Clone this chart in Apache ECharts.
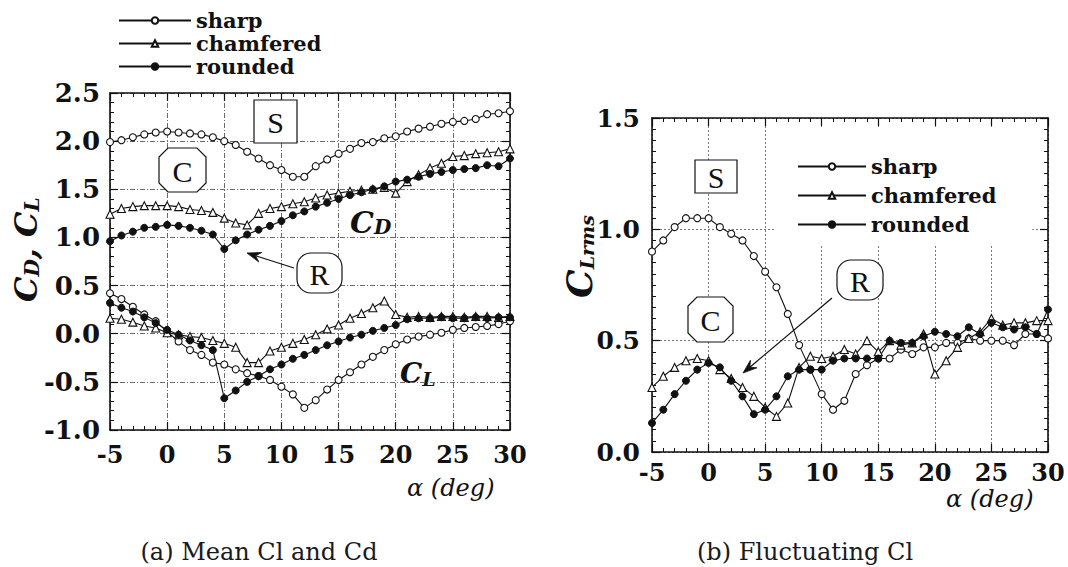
<!DOCTYPE html>
<html>
<head>
<meta charset="utf-8">
<script src="https://cdn.jsdelivr.net/npm/echarts@6/dist/echarts.min.js"></script>
<style>
  html, body { margin: 0; padding: 0; background: #fff; }
  #chart { width: 1068px; height: 567px; }
</style>
</head>
<body>
<div id="chart"></div>
<script>
// Angle of attack (deg)
const alpha = [-5, -4, -3, -2, -1, 0, 1, 2, 3, 4, 5, 6, 7, 8, 9, 10, 11, 12, 13, 14, 15,
               16, 17, 18, 19, 20, 21, 22, 23, 24, 25, 26, 27, 28, 29, 30];

// (a) mean drag coefficient
const sharpCD = [1.99, 2.01, 2.04, 2.07, 2.09, 2.10, 2.09, 2.08, 2.07, 2.04, 2.00, 1.96, 1.89, 1.82, 1.75, 1.70, 1.63, 1.63,
                 1.74, 1.81, 1.87, 1.92, 1.98, 1.99, 2.03, 2.05, 2.10, 2.13, 2.15, 2.18, 2.20, 2.21, 2.23, 2.28, 2.29, 2.31];
const chamferedCD = [1.24, 1.30, 1.32, 1.33, 1.33, 1.33, 1.32, 1.29, 1.28, 1.26, 1.20, 1.15, 1.13, 1.25, 1.30, 1.32, 1.35, 1.37,
                     1.41, 1.44, 1.46, 1.48, 1.49, 1.50, 1.52, 1.46, 1.58, 1.65, 1.72, 1.77, 1.84, 1.85, 1.87, 1.88, 1.89, 1.92];
const roundedCD = [0.96, 1.02, 1.06, 1.10, 1.11, 1.13, 1.12, 1.10, 1.07, 1.03, 0.88, 0.97, 1.03, 1.08, 1.12, 1.17, 1.23, 1.27,
                   1.32, 1.36, 1.40, 1.44, 1.47, 1.50, 1.53, 1.58, 1.60, 1.63, 1.66, 1.68, 1.70, 1.71, 1.72, 1.75, 1.74, 1.82];

// (a) mean lift coefficient
const sharpCL = [0.42, 0.36, 0.28, 0.20, 0.13, 0.02, -0.08, -0.17, -0.22, -0.30, -0.32, -0.37, -0.41, -0.44, -0.48, -0.55, -0.63, -0.77,
                 -0.69, -0.58, -0.48, -0.40, -0.32, -0.24, -0.17, -0.11, -0.06, -0.03, -0.01, 0.01, 0.04, 0.06, 0.07, 0.08, 0.10, 0.13];
const chamferedCL = [0.16, 0.15, 0.12, 0.08, 0.06, 0.01, -0.01, -0.03, -0.04, -0.07, -0.10, -0.14, -0.30, -0.30, -0.18, -0.14, -0.10, -0.06,
                     -0.01, 0.05, 0.09, 0.16, 0.21, 0.27, 0.34, 0.20, 0.17, 0.18, 0.17, 0.18, 0.18, 0.17, 0.18, 0.18, 0.17, 0.18];
const roundedCL = [0.32, 0.27, 0.23, 0.17, 0.11, 0.04, -0.01, -0.07, -0.12, -0.17, -0.67, -0.59, -0.50, -0.44, -0.37, -0.32, -0.26, -0.22,
                   -0.17, -0.12, -0.08, -0.04, -0.01, 0.03, 0.06, 0.09, 0.15, 0.16, 0.16, 0.17, 0.16, 0.16, 0.17, 0.16, 0.17, 0.17];

// (b) rms of the fluctuating lift coefficient
const sharpRms = [0.90, 0.95, 1.01, 1.05, 1.05, 1.05, 1.01, 0.98, 0.95, 0.88, 0.81, 0.74, 0.62, 0.48, 0.37, 0.26, 0.19, 0.23,
                  0.35, 0.39, 0.42, 0.42, 0.46, 0.44, 0.47, 0.47, 0.49, 0.49, 0.51, 0.50, 0.50, 0.50, 0.48, 0.53, 0.53, 0.51];
const chamferedRms = [0.29, 0.34, 0.38, 0.41, 0.42, 0.41, 0.37, 0.33, 0.29, 0.25, 0.20, 0.16, 0.22, 0.38, 0.43, 0.42, 0.43, 0.46,
                      0.44, 0.50, 0.45, 0.50, 0.48, 0.49, 0.53, 0.35, 0.41, 0.47, 0.51, 0.54, 0.60, 0.57, 0.58, 0.58, 0.59, 0.59];
const roundedRms = [0.13, 0.19, 0.26, 0.32, 0.37, 0.40, 0.38, 0.32, 0.25, 0.17, 0.19, 0.25, 0.34, 0.37, 0.37, 0.37, 0.41, 0.42,
                    0.42, 0.42, 0.42, 0.50, 0.49, 0.49, 0.52, 0.54, 0.53, 0.52, 0.56, 0.53, 0.58, 0.56, 0.55, 0.56, 0.53, 0.64];

const edgeNames = ['sharp', 'chamfered', 'rounded'];
const captions = ['(a) Mean Cl and Cd', '(b) Fluctuating Cl'];
const xTitle = 'α (deg)';

const INK = '#111';
const SERIF = '"DejaVu Serif", "Liberation Serif", serif';
const TIMES = '"Liberation Serif", "DejaVu Serif", serif';

const pairs = (ys) => alpha.map((a, i) => [a, ys[i]]);

// marker styles for the three edge shapes
const edgeStyle = {
  sharp:     { symbol: 'circle',   symbolSize: 7, itemStyle: { color: '#fff', borderColor: INK, borderWidth: 1.1 } },
  chamfered: { symbol: 'triangle', symbolSize: 8, itemStyle: { color: '#fff', borderColor: INK, borderWidth: 1.1 } },
  rounded:   { symbol: 'circle',   symbolSize: 7, itemStyle: { color: INK, borderColor: INK, borderWidth: 1 } }
};

function lineSeries(name, ys, xi, yi) {
  const s = edgeStyle[name];
  return {
    type: 'line', name, data: pairs(ys), xAxisIndex: xi, yAxisIndex: yi,
    symbol: s.symbol, symbolSize: s.symbolSize, showSymbol: true,
    itemStyle: s.itemStyle, lineStyle: { color: INK, width: 1.1 },
    emphasis: { disabled: true }, z: 3
  };
}

function axisCommon(extra) {
  return Object.assign({
    type: 'value',
    axisLine: { show: true, onZero: false, lineStyle: { color: INK, width: 1.6 } },
    axisTick: { show: true, inside: true, length: 8, lineStyle: { color: INK, width: 1.2 } },
    minorTick: { show: true, splitNumber: 5, length: 4, lineStyle: { color: INK, width: 1 } },
    splitLine: { show: false },
    axisLabel: { show: false }
  }, extra);
}

const tickFont = (size) => ({ color: INK, fontFamily: SERIF, fontWeight: 'bold', fontSize: size });

const gridA = { left: 110, top: 93, width: 400, height: 337 };
const gridB = { left: 652, top: 118, width: 396, height: 334 };

const xA = { min: -5, max: 30, interval: 5 };
const yA = { min: -1, max: 2.5, interval: 0.5 };
const yB = { min: 0, max: 1.5, interval: 0.5 };

const xAxes = [
  axisCommon(Object.assign({ gridIndex: 0, position: 'bottom',
    axisLabel: Object.assign({ show: true, margin: 12 }, tickFont(24)),
    splitLine: { show: true, lineStyle: { color: '#6a6a6a', width: 1, type: [5, 2, 1, 2] } } }, xA)),
  axisCommon(Object.assign({ gridIndex: 0, position: 'top' }, xA)),
  axisCommon(Object.assign({ gridIndex: 1, position: 'bottom',
    axisLabel: Object.assign({ show: true, margin: 8 }, tickFont(24)),
    splitLine: { show: true, lineStyle: { color: '#777', width: 1, type: [2, 2] } } }, xA)),
  axisCommon(Object.assign({ gridIndex: 1, position: 'top' }, xA))
];

const yAxes = [
  axisCommon(Object.assign({ gridIndex: 0, position: 'left',
    axisLabel: Object.assign({ show: true, margin: 10, formatter: v => v.toFixed(1) }, tickFont(26)),
    splitLine: { show: true, lineStyle: { color: '#6a6a6a', width: 1, type: [5, 2, 1, 2] } } }, yA)),
  axisCommon(Object.assign({ gridIndex: 0, position: 'right' }, yA)),
  axisCommon(Object.assign({ gridIndex: 1, position: 'left',
    minorTick: { show: true, splitNumber: 10, length: 4, lineStyle: { color: INK, width: 1 } },
    axisLabel: Object.assign({ show: true, margin: 12, formatter: v => v.toFixed(1) }, tickFont(25)),
    splitLine: { show: true, lineStyle: { color: '#777', width: 1, type: [2, 2] } } }, yB)),
  axisCommon(Object.assign({ gridIndex: 1, position: 'right',
    minorTick: { show: true, splitNumber: 10, length: 4, lineStyle: { color: INK, width: 1 } } }, yB))
];

const series = [
  lineSeries('sharp', sharpCD, 0, 0),
  lineSeries('chamfered', chamferedCD, 0, 0),
  lineSeries('rounded', roundedCD, 0, 0),
  lineSeries('sharp', sharpCL, 0, 0),
  lineSeries('chamfered', chamferedCL, 0, 0),
  lineSeries('rounded', roundedCL, 0, 0),
  lineSeries('sharp', sharpRms, 2, 2),
  lineSeries('chamfered', chamferedRms, 2, 2),
  lineSeries('rounded', roundedRms, 2, 2)
];

const legendText = { color: INK, fontFamily: SERIF, fontWeight: 'bold', fontSize: 21 };
const legends = [
  { data: edgeNames, orient: 'vertical', left: 118, top: 10, padding: 0, itemGap: 2,
    itemWidth: 72, itemHeight: 8, textStyle: legendText, selectedMode: false },
  { data: edgeNames, orient: 'vertical', left: 775, top: 127, padding: [29, 36, 9, 22], itemGap: 8,
    itemWidth: 68, itemHeight: 8, textStyle: legendText, selectedMode: false, backgroundColor: '#fff' }
];

// ---- annotation helpers ----
const measureCtx = document.createElement('canvas').getContext('2d');
function textWidth(str, font) { measureCtx.font = font; return measureCtx.measureText(str).width; }

// A symbol with subscripts, laid out along a baseline; parts: [text, size, baselineShift]
function mathLabel(x, y, parts, rotation) {
  const children = [];
  let cx = 0;
  parts.forEach(([t, size, shift]) => {
    const font = `italic bold ${size}px ${SERIF}`;
    children.push({
      type: 'text', x: cx, y: (shift || 0) - size * 0.33,
      style: { text: t, font, fill: INK, align: 'left', verticalAlign: 'middle' }
    });
    cx += textWidth(t, font);
  });
  return { type: 'group', x, y, rotation: rotation || 0, children, z: 20 };
}

function letterBox(letter, x0, y0, x1, y1, kind) {
  let shape;
  if (kind === 'round') {
    shape = { type: 'rect', shape: { x: x0, y: y0, width: x1 - x0, height: y1 - y0, r: 14 } };
  } else if (kind === 'octagon') {
    const c = 9;
    shape = { type: 'polygon', shape: { points: [[x0 + c, y0], [x1 - c, y0], [x1, y0 + c], [x1, y1 - c], [x1 - c, y1], [x0 + c, y1], [x0, y1 - c], [x0, y0 + c]] } };
  } else {
    shape = { type: 'rect', shape: { x: x0, y: y0, width: x1 - x0, height: y1 - y0 } };
  }
  shape.style = { fill: '#fff', stroke: INK, lineWidth: 1.2 };
  shape.z = 10;
  return [shape, {
    type: 'text', x: (x0 + x1) / 2, y: (y0 + y1) / 2 + 1, z: 11,
    style: { text: letter, font: `30px ${TIMES}`, fill: INK, align: 'center', verticalAlign: 'middle' }
  }];
}

function arrow(tail, head) {
  const dx = head[0] - tail[0], dy = head[1] - tail[1];
  const L = Math.hypot(dx, dy), ux = dx / L, uy = dy / L, px = -uy, py = ux;
  const len = 14, w = 5, notch = 9;
  const bx = head[0] - ux * len, by = head[1] - uy * len;
  const nx = head[0] - ux * notch, ny = head[1] - uy * notch;
  return [
    { type: 'line', z: 12, shape: { x1: tail[0], y1: tail[1], x2: nx, y2: ny }, style: { stroke: INK, lineWidth: 1.2 } },
    { type: 'polygon', z: 12, shape: { points: [head, [bx + px * w, by + py * w], [nx, ny], [bx - px * w, by - py * w]] },
      style: { fill: INK, stroke: INK, lineWidth: 0.8 } }
  ];
}

const graphics = [].concat(
  letterBox('S', 254, 100, 297, 143, 'square'),
  letterBox('C', 159, 148, 206, 192, 'octagon'),
  letterBox('R', 297, 253, 342, 293, 'round'),
  arrow([294, 268], [247, 253]),
  letterBox('S', 695, 160, 737, 193, 'square'),
  letterBox('C', 688, 297, 733, 342, 'octagon'),
  letterBox('R', 837, 260, 883, 300, 'round'),
  arrow([832, 298], [743, 373]),
  [
    mathLabel(350, 232, [['C', 30], ['D', 20, 2]]),
    mathLabel(400, 383, [['C', 28], ['L', 19, 2]]),
    mathLabel(37, 302, [['C', 32], ['D', 20, 2], [', ', 32], ['C', 32], ['L', 20, 2]], Math.PI / 2),
    mathLabel(591, 298, [['C', 36], ['Lrms', 19, 2]], Math.PI / 2),
    { type: 'text', x: 407, y: 488, z: 20, style: { text: xTitle, font: `italic 24px ${SERIF}`, fill: INK, align: 'left', verticalAlign: 'middle' } },
    { type: 'text', x: 946, y: 499, z: 20, style: { text: xTitle, font: `italic 24px ${SERIF}`, fill: INK, align: 'left', verticalAlign: 'middle' } },
    { type: 'text', x: 259, y: 552, z: 20, style: { text: captions[0], font: `24px ${SERIF}`, fill: '#1a1a1a', align: 'center', verticalAlign: 'middle' } },
    { type: 'text', x: 805, y: 552, z: 20, style: { text: captions[1], font: `24px ${SERIF}`, fill: '#1a1a1a', align: 'center', verticalAlign: 'middle' } }
  ]
);

const chart = echarts.init(document.getElementById('chart'), null, { renderer: 'svg', width: 1068, height: 567 });
chart.setOption({
  backgroundColor: '#fff',
  animation: false,
  grid: [gridA, gridB],
  xAxis: xAxes,
  yAxis: yAxes,
  legend: legends,
  series,
  graphic: graphics
});
</script>
</body>
</html>
